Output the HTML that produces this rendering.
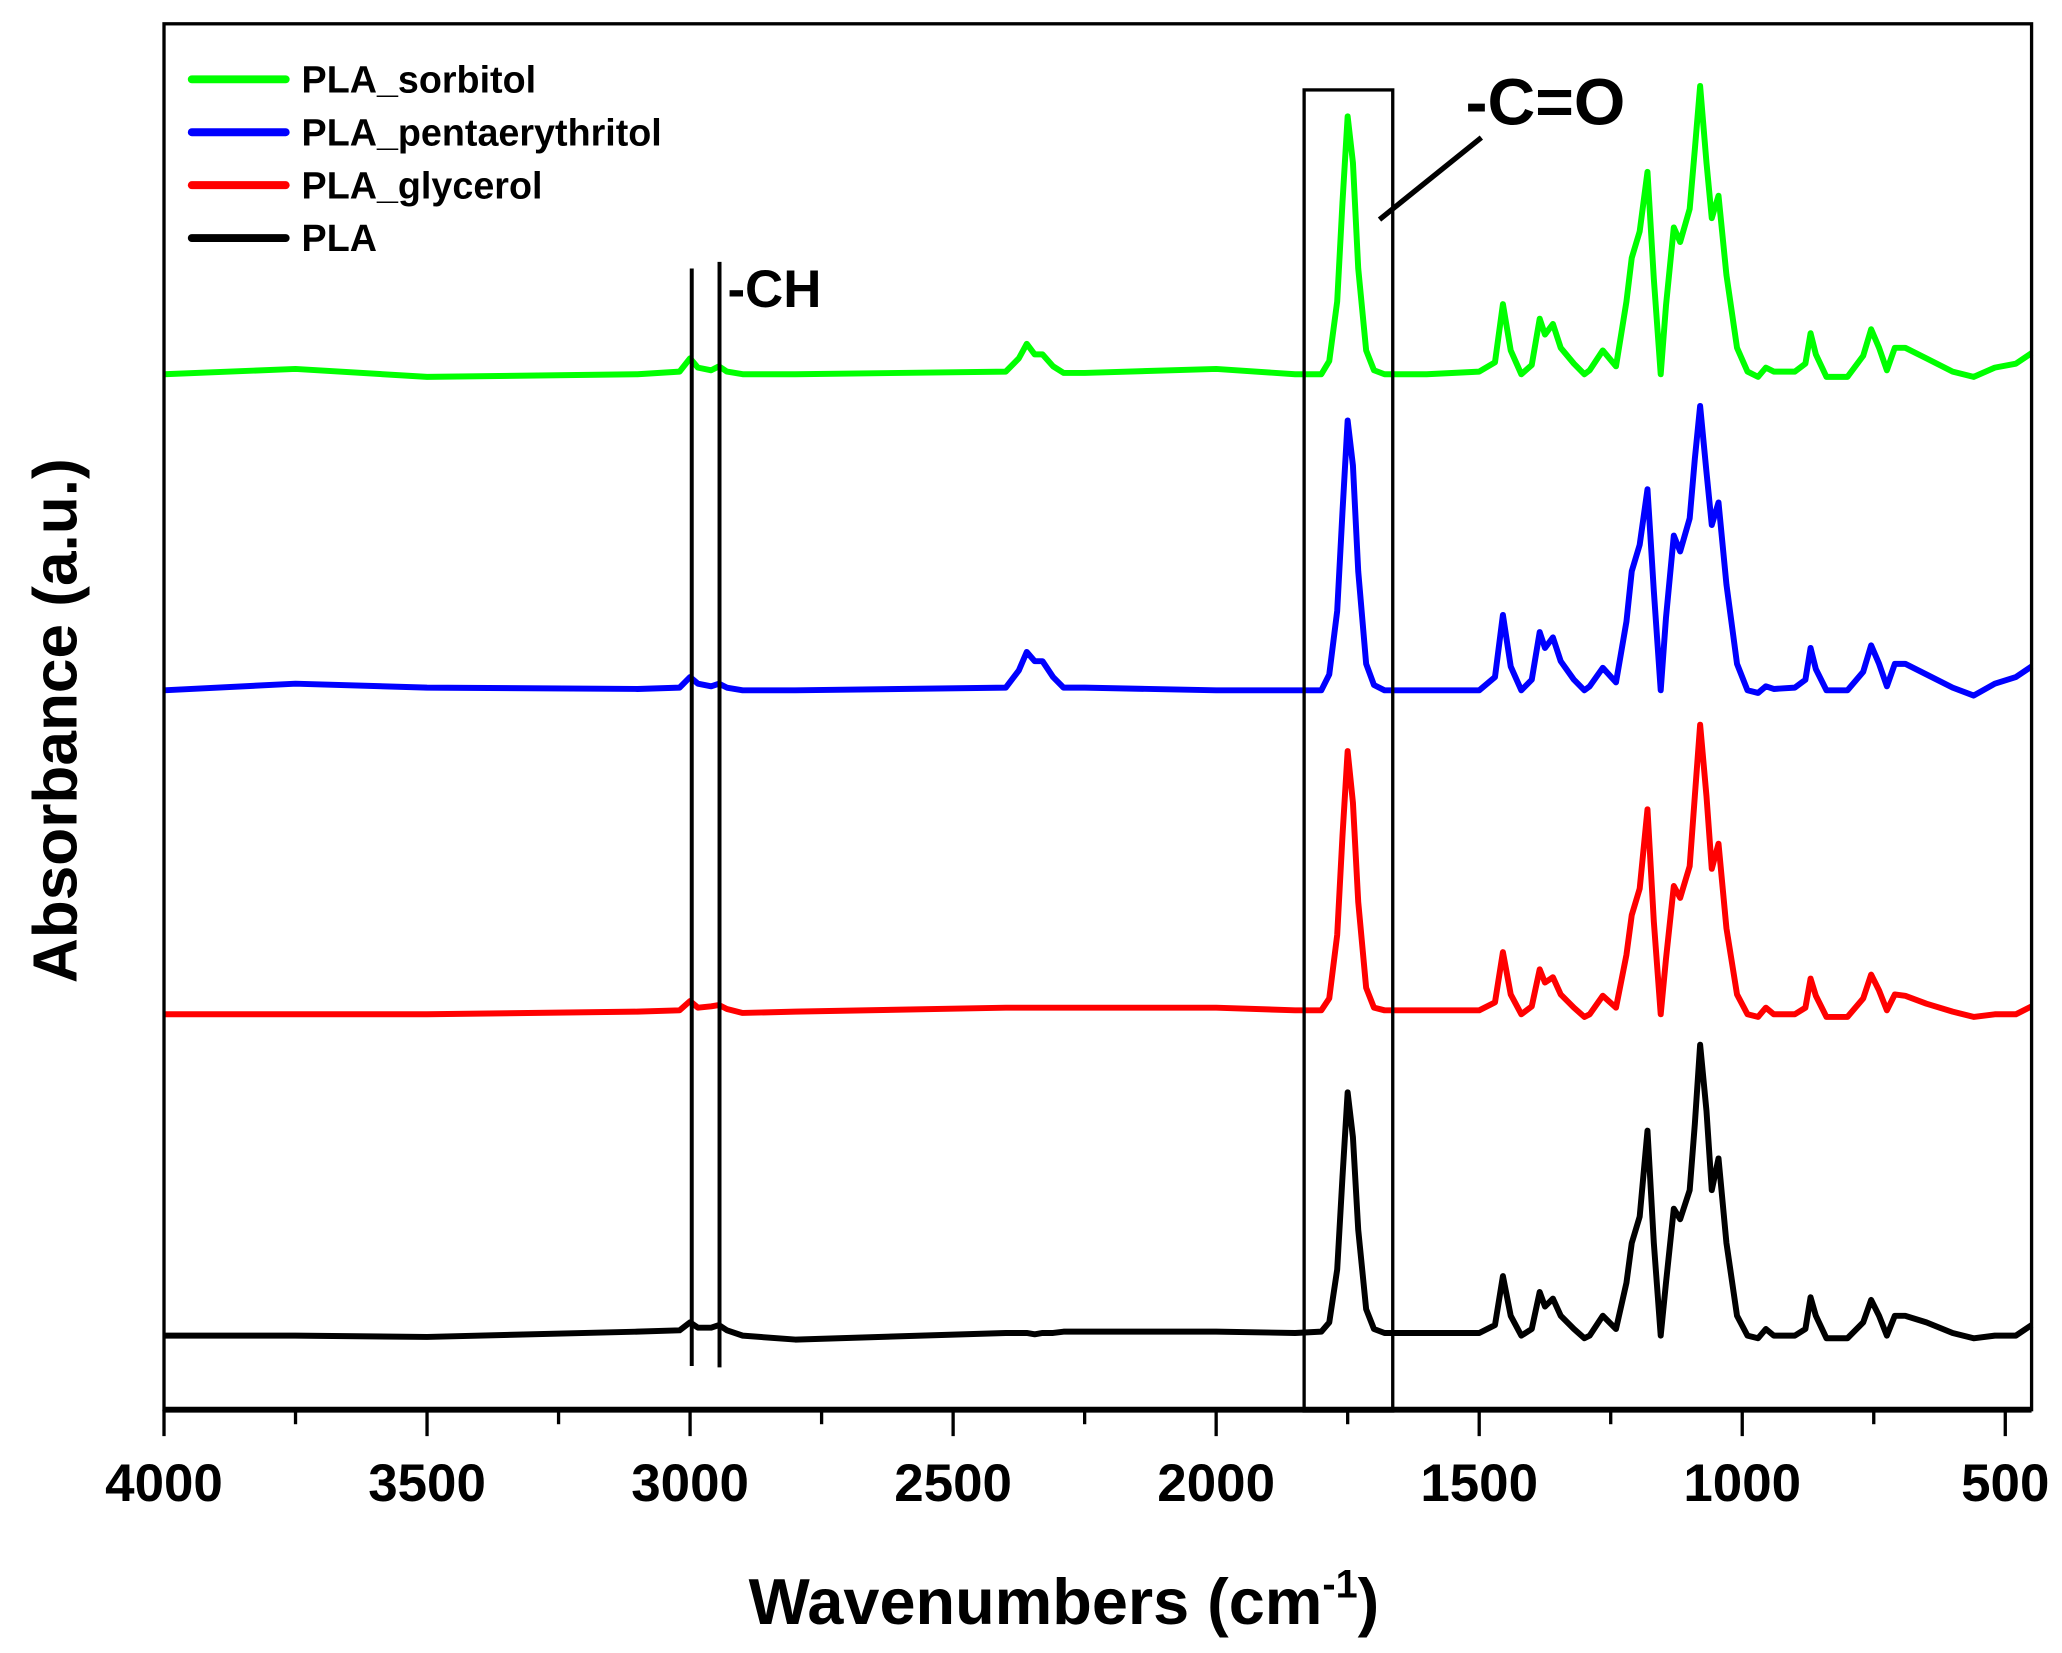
<!DOCTYPE html>
<html><head><meta charset="utf-8"><style>
html,body{margin:0;padding:0;background:#fff}
svg{display:block}
text{font-family:"Liberation Sans",Arial,sans-serif;font-weight:bold;fill:#000}
</style></head><body>
<svg id="chart" width="2062" height="1653" viewBox="0 0 1559 1250" preserveAspectRatio="none" xmlns="http://www.w3.org/2000/svg">
<g id="series"></g>
<g id="axes"></g>
</svg>
<script>
const wavenumbers=[4000,3750,3500,3100,3020,3000,2985,2960,2945,2930,2900,2800,2400,2375,2360,2345,2330,2310,2290,2250,2000,1850,1800,1785,1770,1760,1750,1740,1730,1715,1700,1680,1600,1500,1470,1455,1440,1420,1400,1385,1375,1360,1345,1320,1300,1290,1265,1240,1220,1210,1195,1180,1168,1155,1145,1130,1118,1100,1090,1080,1068,1058,1045,1030,1010,990,970,955,940,900,880,870,860,840,800,770,755,740,725,710,690,650,600,560,520,480,450];
const plaValues=[0,0,-1,3,4,10,6,6,8,4,0,-3,2,2,2,1,2,2,3,3,3,2,3,10,50,120,184,150,80,20,5,2,2,2,8,45,15,0,5,33,22,28,15,5,-2,0,15,5,40,70,90,155,70,0,40,96,88,110,160,220,170,110,134,70,15,0,-2,5,0,0,5,29,15,-2,-2,10,27,15,0,15,15,10,2,-2,0,0,8];
const glycerolValues=[0,0,0,2,3,10,5,6,7,4,1,2,5,5,5,5,5,5,5,5,5,3,3,12,60,135,199,160,85,20,5,3,3,3,9,47,15,0,6,34,24,28,15,5,-2,0,14,5,45,75,95,155,70,0,42,97,88,112,165,219,165,110,129,65,15,0,-2,5,0,0,5,27,14,-2,-2,12,30,18,3,15,14,8,2,-2,0,0,6];
const pentaValues=[0,5,2,1,2,10,5,3,5,2,0,0,2,15,29,22,22,10,2,2,0,0,0,12,60,135,204,170,90,20,4,0,0,0,10,57,18,0,8,44,32,40,22,8,0,3,17,6,52,90,110,152,75,0,55,117,105,130,175,215,165,125,142,80,20,0,-2,3,1,2,8,32,16,0,0,14,34,20,3,20,20,12,2,-4,5,10,18];
const sorbitolValues=[0,4,-2,0,2,12,5,3,6,2,0,0,2,12,23,15,15,6,1,1,4,0,0,10,55,130,195,160,80,18,3,0,0,2,9,53,18,0,7,42,30,38,20,8,0,3,18,6,55,88,108,153,72,0,52,111,100,125,170,218,160,118,135,75,20,2,-2,5,2,2,8,31,15,-2,-2,14,34,20,3,20,20,12,2,-2,5,8,16];
const seriesNames=["PLA_sorbitol","PLA_pentaerythritol","PLA_glycerol","PLA"];
const seriesColors=["#00ff00","#0000ff","#ff0000","#000000"];
const seriesOffsets=[727,488,243,0];
const xTicks=[4000,3500,3000,2500,2000,1500,1000,500];
const xMinorTicks=[3750,3250,2750,2250,1750,1250,750];

const NS="http://www.w3.org/2000/svg";
const L=124,R=1536,T=18,B=1066;
const X0=4000,X1=450;
function xs(w){return L+(X0-w)*(R-L)/(X0-X1);}
function ys(v){return 1010-v;}
function mk(tag,attrs,parent){const e=document.createElementNS(NS,tag);for(const k in attrs)e.setAttribute(k,attrs[k]);parent.appendChild(e);return e;}
const sg=document.getElementById('series'),ag=document.getElementById('axes');
const allVals=[sorbitolValues,pentaValues,glycerolValues,plaValues];
allVals.forEach((vals,i)=>{
  const d=wavenumbers.map((w,j)=>(j?'L':'M')+xs(w).toFixed(1)+','+ys(vals[j]+seriesOffsets[i]).toFixed(1)).join(' ');
  const p=mk('path',{d:d,fill:'none',stroke:seriesColors[i],'stroke-width':4.5,'stroke-linejoin':'round'},sg);
  
  
});
const fr=mk('rect',{x:L,y:T,width:R-L,height:B-T,fill:'none',stroke:'#000','stroke-width':2.5},ag);


const xa=mk('line',{x1:L,x2:R,y1:B,y2:B,stroke:'#000','stroke-width':4.5},ag);


xTicks.forEach(t=>{
  const ln=mk('line',{x1:xs(t),x2:xs(t),y1:B,y2:B+20,stroke:'#000','stroke-width':2.5},ag);
  
  
  const tx=mk('text',{x:xs(t),y:1135,'text-anchor':'middle','font-size':40},ag);
  tx.textContent=t;
  
  
});
xMinorTicks.forEach(t=>{
  const ln=mk('line',{x1:xs(t),x2:xs(t),y1:B,y2:B+11,stroke:'#000','stroke-width':2.5},ag);
  
  
});
seriesNames.forEach((n,i)=>{
  const y=60+i*40;
  const ln=mk('line',{x1:145,x2:216,y1:y,y2:y,stroke:seriesColors[i],'stroke-width':6,'stroke-linecap':'round'},ag);
  
  
  const tx=mk('text',{x:228,y:y+10,'font-size':28.5},ag);
  tx.textContent=n;
  
  
});
</script>
<script>
(function(){
const NS="http://www.w3.org/2000/svg";const ag=document.getElementById('axes');
function mk(tag,attrs){const e=document.createElementNS(NS,tag);for(const k in attrs)e.setAttribute(k,attrs[k]);ag.appendChild(e);return e;}
let e;
e=mk('rect',{x:986,y:68,width:67,height:999,fill:'none',stroke:'#000','stroke-width':2.5});


e=mk('line',{x1:1043,y1:166,x2:1120,y2:104,stroke:'#000','stroke-width':4});


e=mk('text',{x:1108,y:94,'font-size':50});e.textContent='-C=O';


e=mk('line',{x1:523,x2:523,y1:203,y2:1033,stroke:'#000','stroke-width':3});


e=mk('line',{x1:544,x2:544,y1:198,y2:1034,stroke:'#000','stroke-width':3});


e=mk('text',{x:550,y:232,'font-size':40});e.textContent='-CH';


e=mk('text',{x:566,y:1228,'font-size':49});
e.innerHTML='Wavenumbers (cm<tspan dy="-20" font-size="30">-1</tspan><tspan dy="20">)</tspan>';


e=mk('text',{x:0,y:0,'font-size':47,'text-anchor':'middle',transform:'translate(58,545) rotate(-90)'});
e.textContent='Absorbance (a.u.)';


})();
</script>
</body></html>
